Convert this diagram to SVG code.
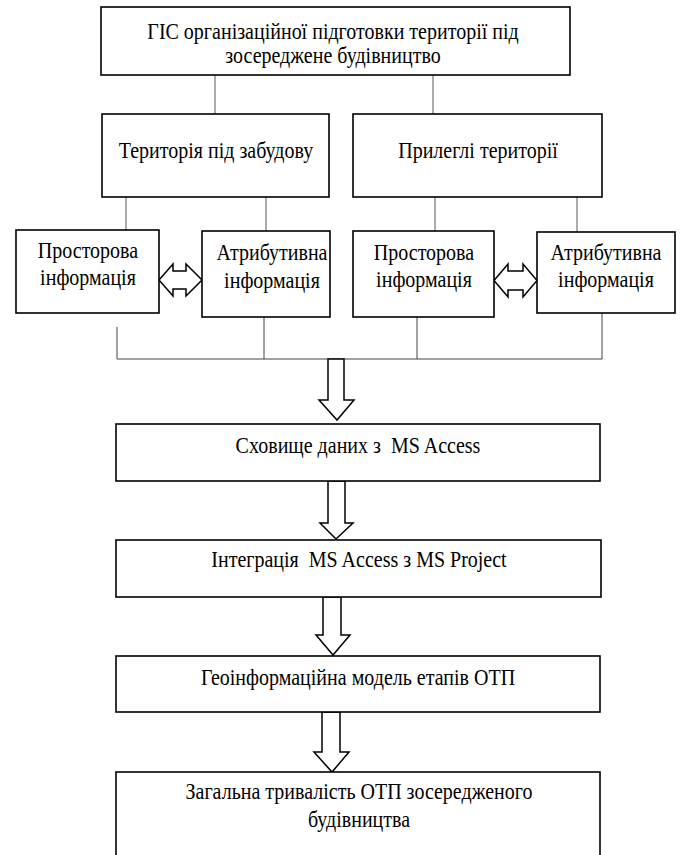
<svg xmlns="http://www.w3.org/2000/svg" width="682" height="855" viewBox="0 0 682 855">
<style>
.box{fill:#fff;stroke:#000;stroke-width:1.6}
.ln{fill:none;stroke:#808080;stroke-width:1.3}
.ln2{fill:none;stroke:#444;stroke-width:1}
.arr{fill:#fff;stroke:#000;stroke-width:1.5;stroke-linejoin:miter}
</style>
<rect width="682" height="855" fill="#fff"/>
<g id="connectors">
<path class="ln" d="M215,75V114M433,75V114"/>
<path class="ln" d="M126,197V230M266,197V231M435,197V231M577,197V232"/>
<path class="ln2" d="M117,327V359M264,317V359M417,317V359M602,313V359M117,359H602"/>
<path class="arr" d="M159,280L173,264L173,271L186,271L186,264L202,280L186,296L186,289L173,289L173,296Z"/>
<path class="arr" d="M494,280.5L508,264L508,271L523,271L523,264L537,280.5L523,297L523,290L508,290L508,297Z"/>
<path class="arr" d="M328,359H344V400H354L337,420L319,400H328Z"/>
<path class="arr" d="M328,481H345V523H353L336,539L320,523H328Z"/>
<path class="arr" d="M323,597H341V635H350L333,655L316,635H323Z"/>
<path class="arr" d="M322,712H340V752H349L332,772L314,752H322Z"/>
</g>
<g font-family="Liberation Serif" font-size="20" text-anchor="middle" fill="#000">
<g id="n-gis">
<rect class="box" x="101" y="7" width="469" height="68"/>
<g transform="translate(333,39) scale(1,1.15)"><text>ГІС організаційної підготовки території під</text></g>
<g transform="translate(333,63) scale(1,1.15)"><text>зосереджене будівництво</text></g>
</g>
<g id="n-terr">
<rect class="box" x="102" y="114" width="227" height="83"/>
<g transform="translate(216,158) scale(1,1.15)"><text>Територія під забудову</text></g>
</g>
<g id="n-adj">
<rect class="box" x="353" y="114" width="249" height="83"/>
<g transform="translate(478,158) scale(1,1.15)"><text>Прилеглі території</text></g>
</g>
<g id="n-spat1">
<rect class="box" x="16" y="230" width="143" height="83"/>
<g transform="translate(88,258) scale(1,1.15)"><text>Просторова</text></g>
<g transform="translate(88,285) scale(1,1.15)"><text>інформація</text></g>
</g>
<g id="n-attr1">
<rect class="box" x="202" y="231" width="128" height="86"/>
<g transform="translate(272,260) scale(1,1.15)"><text>Атрибутивна</text></g>
<g transform="translate(272,288) scale(1,1.15)"><text>інформація</text></g>
</g>
<g id="n-spat2">
<rect class="box" x="353" y="231" width="141" height="86"/>
<g transform="translate(424,260) scale(1,1.15)"><text>Просторова</text></g>
<g transform="translate(424,287) scale(1,1.15)"><text>інформація</text></g>
</g>
<g id="n-attr2">
<rect class="box" x="537" y="232" width="138" height="81"/>
<g transform="translate(606,260) scale(1,1.15)"><text>Атрибутивна</text></g>
<g transform="translate(606,287) scale(1,1.15)"><text>інформація</text></g>
</g>
<g id="n-store">
<rect class="box" x="116" y="424" width="484" height="57"/>
<g transform="translate(358,453) scale(1,1.15)"><text xml:space="preserve">Сховище даних з  MS Access</text></g>
</g>
<g id="n-integr">
<rect class="box" x="116" y="540" width="485" height="57"/>
<g transform="translate(359,567) scale(1,1.15)"><text xml:space="preserve">Інтеграція  MS Access з MS Project</text></g>
</g>
<g id="n-geo">
<rect class="box" x="116" y="656" width="484" height="56"/>
<g transform="translate(358,685) scale(1,1.15)"><text>Геоінформаційна модель етапів ОТП</text></g>
</g>
<g id="n-total">
<rect class="box" x="116" y="772" width="484" height="90"/>
<g transform="translate(359,799) scale(1,1.15)"><text>Загальна тривалість ОТП зосередженого</text></g>
<g transform="translate(359,827) scale(1,1.15)"><text>будівництва</text></g>
</g>
</g>
</svg>
